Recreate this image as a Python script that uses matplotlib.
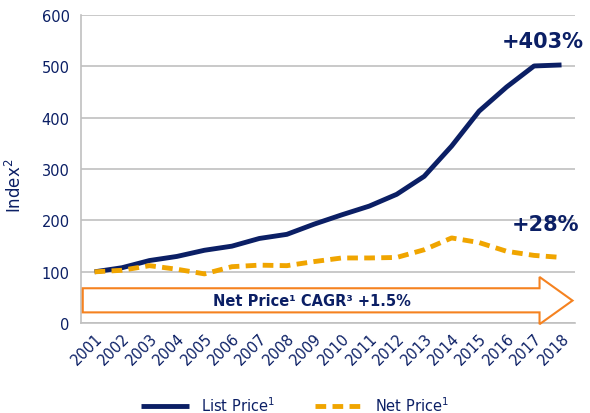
import matplotlib
matplotlib.use("Agg")
import matplotlib.pyplot as plt
from matplotlib.patches import Polygon

years = [str(y) for y in range(2001, 2019)]
list_price = [100, 108, 122, 130, 142, 150, 165, 173, 193, 211, 228, 251, 286, 345, 413, 460, 501, 503]
net_price = [100, 103, 112, 105, 96, 110, 113, 112, 120, 127, 127, 128, 143, 166, 157, 140, 132, 128]
yticks = [0, 100, 200, 300, 400, 500, 600]

NAVY = "#0b1f65"
GOLD = "#f0a500"
ORANGE = "#f58220"
GRID = "#c0c0c0"

plt.rcParams['font.family'] = ['DejaVu Sans']
fig = plt.figure(figsize=(5.9, 4.14), dpi=100)
ax = fig.add_axes([0.137, 0.217, 0.838, 0.744])

x = list(range(len(years)))
ax.plot(x, list_price, color=NAVY, lw=3.5, solid_capstyle='butt', label="List Price$^1$", zorder=3)
ax.plot(x, net_price, color=GOLD, lw=3.5, ls=(0, (2.2, 1.3)), label="Net Price$^1$", zorder=3)

ax.set_xlim(-0.5, len(years) - 0.5)
ax.set_ylim(0, 600)
ax.set_yticks(yticks)
ax.set_xticks(x)
ax.set_xticklabels(years, rotation=45, ha='right', rotation_mode='anchor')
ax.tick_params(axis='both', colors=NAVY, labelsize=10.5, length=0)
ax.tick_params(axis='y', pad=8)
ax.tick_params(axis='x', pad=5)
ax.grid(axis='y', color=GRID, lw=1.2)
ax.set_axisbelow(True)
for s in ['top', 'right']:
    ax.spines[s].set_visible(False)
ax.spines['left'].set_color(GRID)
ax.spines['bottom'].set_color(GRID)
ax.spines['left'].set_linewidth(1.2)
ax.spines['bottom'].set_linewidth(1.2)

ax.set_ylabel("Index$^2$", color=NAVY, fontsize=12)
ax.yaxis.set_label_coords(-0.112, 0.45)

# arrow annotation
arrow = Polygon([(-0.43, 68), (16.2, 68), (16.2, 90), (17.4, 44), (16.2, -2), (16.2, 21), (-0.43, 21)],
                closed=True, facecolor='white', edgecolor=ORANGE, lw=1.5, zorder=4, clip_on=False)
ax.add_patch(arrow)
ax.text(7.9, 44, "Net Price¹ CAGR³ +1.5%", color=NAVY, fontsize=10.5, fontweight='bold',
        ha='center', va='center', zorder=5)

ax.text(16.3, 550, "+403%", color=NAVY, fontsize=15, fontweight='bold', ha='center', va='center')
ax.text(16.4, 193, "+28%", color=NAVY, fontsize=15, fontweight='bold', ha='center', va='center')

leg = fig.legend(loc='lower center', bbox_to_anchor=(0.5, -0.035), ncol=2, frameon=False,
                 fontsize=10.5, handlelength=3.3, columnspacing=2.8)
for t in leg.get_texts():
    t.set_color(NAVY)

fig.savefig("out.png", dpi=100)
